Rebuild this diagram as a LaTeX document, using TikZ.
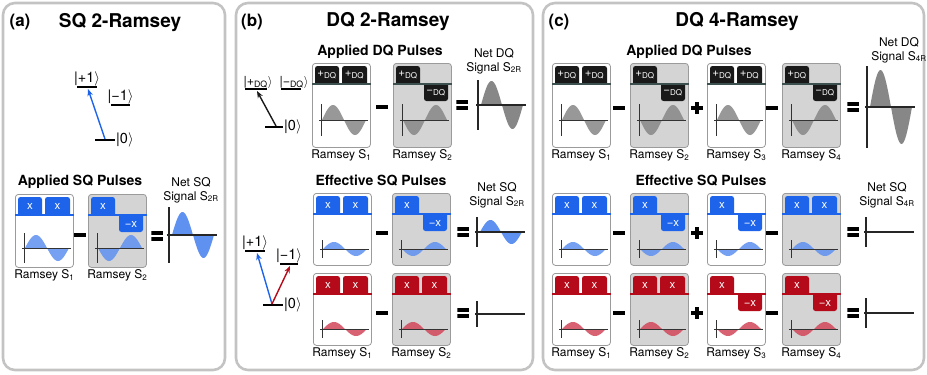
\documentclass[tikz,border=0pt]{standalone}
\usepackage{fontspec}
\setmainfont{TeX Gyre Heros}
\usetikzlibrary{arrows.meta,positioning,calc}

\definecolor{sqblue}{RGB}{30,100,235}
\definecolor{sqbluewave}{RGB}{95,145,240}
\definecolor{sqred}{RGB}{180,10,25}
\definecolor{sqredwave}{RGB}{210,70,90}
\definecolor{dqblack}{RGB}{25,25,25}
\definecolor{dqline}{RGB}{60,80,80}
\definecolor{dqwave}{RGB}{135,135,135}
\definecolor{boxgray}{RGB}{212,212,212}
\definecolor{boxedge}{RGB}{155,155,155}
\definecolor{framegray}{RGB}{195,195,195}

% Ramsey box: name, x, y (north west), height, fill
\newcommand{\ramseybox}[5]{%
  \node[rbox,fill=#5,minimum height=#4] (#1) at (#2,#3) {};}
% two upper pulses: box, tab colour, line colour, label
\newcommand{\pulsepair}[4]{%
  \fill[#2] ($(#1.north west)+(3,21)$) [rounded corners=2.5pt] -- ++(0,-18) -- ++(24,0) [sharp corners] -- ++(0,18) -- cycle;
  \fill[#2] ($(#1.north west)+(30,21)$) [rounded corners=2.5pt] -- ++(0,-18) -- ++(25,0) [sharp corners] -- ++(0,18) -- cycle;
  \draw[#3,line width=1.6pt] ($(#1.north west)+(0,21)$) -- ($(#1.north east)+(0,21)$);
  \node[tabtext] (#1-p1) at ($(#1.north west)+(15,12)$) {#4};
  \node[tabtext] (#1-p2) at ($(#1.north west)+(42.5,12)$) {#4};}
% upper pulse then flipped pulse: box, tab colour, line colour, label, flipped label
\newcommand{\pulseflip}[5]{%
  \fill[#2] ($(#1.north west)+(3,21)$) [rounded corners=2.5pt] -- ++(0,-18) -- ++(24,0) [sharp corners] -- ++(0,18) -- cycle;
  \fill[#2] ($(#1.north west)+(31,21)$) [rounded corners=2.5pt] -- ++(0,17) -- ++(24,0) [sharp corners] -- ++(0,-17) -- cycle;
  \draw[#3,line width=1.6pt] ($(#1.north west)+(0,21)$) -- ($(#1.north east)+(0,21)$);
  \node[tabtext] (#1-p1) at ($(#1.north west)+(15,12)$) {#4};
  \node[tabtext] (#1-p2) at ($(#1.north west)+(43,30)$) {#5};}
% signal inside a box: box, colour, amplitude (signed), axis offset, axis half height
\newcommand{\ramseywave}[5]{%
  \begin{scope}[shift={($(#1.north west)+(10,#4)$)}]
    \fill[#2,opacity=.85] plot[domain=0:44,samples=45] (\x,{-(#3)*sin(\x*360/44)}) -- cycle;
    \draw[waveaxis] (-3,0) -- (46,0);
    \draw[waveaxis] (-1,-#5) -- (-1,#5);
  \end{scope}}
% net signal: name, x, y, colour, amplitude, axis half height
\newcommand{\netwave}[6]{%
  \coordinate (#1) at (#2,#3);
  \begin{scope}[shift={(#1)}]
    \fill[#4] plot[domain=0:42,samples=43] ({3+\x},{-(#5)*sin(\x*360/42)}) -- cycle;
    \draw[netaxis] (-2,0) -- (48,0);
    \draw[netaxis] (0,-#6) -- (0,#6);
  \end{scope}}

\begin{document}
\begin{tikzpicture}[x=1pt,y=-1pt,
  >={Stealth[length=7pt,width=5.5pt]},
  frame/.style={draw=framegray,line width=2.6pt,rounded corners=12pt},
  panel/.style={font=\bfseries\fontsize{17}{20}\selectfont},
  title/.style={font=\bfseries\fontsize{19}{22}\selectfont},
  heading/.style={font=\bfseries\fontsize{14}{16}\selectfont},
  netlabel/.style={font=\fontsize{12}{14}\selectfont,align=center},
  rlabel/.style={font=\fontsize{12}{14}\selectfont,inner sep=1pt},
  rbox/.style={draw=boxedge,line width=0.8pt,rounded corners=3pt,minimum width=58pt,anchor=north west,inner sep=0pt},
  tabtext/.style={text=white,font=\fontsize{11.5}{13}\selectfont,inner sep=0pt},
  waveaxis/.style={draw=black!80,line width=0.8pt},
  netaxis/.style={draw=black!85,line width=1.1pt},
  opminus/.style={fill=black,minimum width=11.5pt,minimum height=3.6pt,inner sep=0pt},
  opequal/.style={minimum width=11.5pt,minimum height=10pt,inner sep=0pt,
    path picture={\fill[black] (path picture bounding box.north west) rectangle ++(11.5pt,-3.6pt);
      \fill[black] (path picture bounding box.south west) rectangle ++(11.5pt,3.6pt);}},
  opplus/.style={minimum width=12pt,minimum height=12pt,inner sep=0pt,
    path picture={\fill[black] ([yshift=1.8pt]path picture bounding box.west) rectangle ([yshift=-1.8pt]path picture bounding box.east);
      \fill[black] ([xshift=-1.8pt]path picture bounding box.north) rectangle ([xshift=1.8pt]path picture bounding box.south);}},
  level/.style={line width=1.8pt},
  ket/.style={font=\fontsize{14.5}{16}\selectfont,inner sep=1pt},
  dqket/.style={font=\fontsize{12.5}{14}\selectfont,inner sep=0.5pt},
  trans/.style={->,line width=1.4pt}
]
\useasboundingbox (0,0) rectangle (927,375);

% Panel (a)
\draw[frame] (3,3) rectangle (225,370);
\node[panel] (alab) at (20,22) {(a)};
\node[title] (atitle) at (120,23) {SQ 2-Ramsey};

\coordinate (ap1L) at (77,87);  \coordinate (ap1R) at (97,87);
\coordinate (am1L) at (111,105); \coordinate (am1R) at (130,105);
\coordinate (a0L) at (95,140);  \coordinate (a0R) at (115,140);
\draw[level] (ap1L) -- (ap1R);
\draw[level] (am1L) -- (am1R);
\draw[level] (a0L) -- (a0R);
\node[ket,anchor=south] (ap1) at ($(ap1L)!.5!(ap1R)$) {|+1$\rangle$};
\node[ket,anchor=south] (am1) at ($(am1L)!.5!(am1R)$) {|−1$\rangle$};
\node[ket,anchor=west] (a0) at (a0R) {|0$\rangle$};
\coordinate (a0s) at (105,139);
\coordinate (ap1e) at (88,89);
\draw[trans,sqblue] (a0s) -- (ap1e);

\node[heading] (ahead) at (80,182) {Applied SQ Pulses};
\node[netlabel] (anet) at (191,190) {Net SQ\\Signal S\textsubscript{2R}};

\ramseybox{aS1}{15}{194}{73pt}{white}
\pulsepair{aS1}{sqblue}{sqblue}{x}
\ramseywave{aS1}{sqbluewave}{13}{54}{15}
\node[opminus] (aop1) at (80,235) {};
\ramseybox{aS2}{88}{194}{73pt}{boxgray}
\pulseflip{aS2}{sqblue}{sqblue}{x}{−x}
\ramseywave{aS2}{sqbluewave}{-13}{54}{15}
\node[opequal] (aop2) at (157,236) {};
\netwave{anetw}{169}{235}{sqbluewave}{23}{28}
\node[rlabel,below=1pt of aS1] (aS1lab) {Ramsey S\textsubscript{1}};
\node[rlabel,below=1pt of aS2] (aS2lab) {Ramsey S\textsubscript{2}};

% Panel (b)
\draw[frame] (236,3) rectangle (533,370);
\node[panel] (blab) at (252,22) {(b)};
\node[title] (btitle) at (388,22) {DQ 2-Ramsey};

\coordinate (bpL) at (245,89);  \coordinate (bpR) at (267,89);
\coordinate (bmL) at (281,89);  \coordinate (bmR) at (301,89);
\coordinate (b0L) at (265,127); \coordinate (b0R) at (283,127);
\draw[level] (bpL) -- (bpR);
\draw[level] (bmL) -- (bmR);
\draw[level] (b0L) -- (b0R);
\node[dqket,anchor=south] (bp) at ($(bpL)!.5!(bpR)+(2,0)$) {|+\textsubscript{DQ}$\rangle$};
\node[dqket,anchor=south] (bm) at ($(bmL)!.5!(bmR)+(3,0)$) {|−\textsubscript{DQ}$\rangle$};
\node[ket,anchor=west] (b0) at (b0R) {|0$\rangle$};
\coordinate (b0s) at (276,126);
\coordinate (bpe) at (257,91);
\draw[trans,dqblack] (b0s) -- (bpe);

\node[heading] (bhead) at (380,52) {Applied DQ Pulses};
\node[netlabel] (bnet) at (494,61) {Net DQ\\Signal S\textsubscript{2R}};

\ramseybox{bA1}{312}{63}{84pt}{white}
\pulsepair{bA1}{dqblack}{dqline}{+\textsubscript{DQ}}
\ramseywave{bA1}{dqwave}{15}{57}{16}
\node[opminus] (bop1) at (382,107) {};
\ramseybox{bA2}{393}{63}{84pt}{boxgray}
\pulseflip{bA2}{dqblack}{dqline}{+\textsubscript{DQ}}{−\textsubscript{DQ}}
\ramseywave{bA2}{dqwave}{-15}{57}{16}
\node[opequal] (bop2) at (462,105) {};
\netwave{bnetw}{478}{105}{dqwave}{24}{25}
\node[rlabel,below=1pt of bA1] (bA1lab) {Ramsey S\textsubscript{1}};
\node[rlabel,below=1pt of bA2] (bA2lab) {Ramsey S\textsubscript{2}};

\node[heading] (bhead2) at (381,181) {Effective SQ Pulses};
\node[netlabel] (bnet2) at (497,195) {Net SQ\\Signal S\textsubscript{2R}};

\coordinate (bp1L) at (245,251); \coordinate (bp1R) at (265,251);
\coordinate (bm1L) at (280,264); \coordinate (bm1R) at (298,264);
\coordinate (bq0L) at (263,305); \coordinate (bq0R) at (283,305);
\draw[level] (bp1L) -- (bp1R);
\draw[level] (bm1L) -- (bm1R);
\draw[level] (bq0L) -- (bq0R);
\node[ket,anchor=south] (bp1) at ($(bp1L)!.5!(bp1R)$) {|+1$\rangle$};
\node[ket,anchor=south] (bm1) at ($(bm1L)!.5!(bm1R)$) {|−1$\rangle$};
\node[ket,anchor=west] (bq0) at (bq0R) {|0$\rangle$};
\coordinate (bq0s) at (272,304);
\coordinate (bp1e) at (257,253);
\coordinate (bm1e) at (290,266);
\draw[trans,sqblue] (bq0s) -- (bp1e);
\draw[trans,sqred] (bq0s) -- (bm1e);

\ramseybox{bB1}{313}{193}{72pt}{white}
\pulsepair{bB1}{sqblue}{sqblue}{x}
\ramseywave{bB1}{sqbluewave}{7}{56}{9}
\node[opminus] (bop3) at (382,233) {};
\ramseybox{bB2}{392}{193}{72pt}{boxgray}
\pulseflip{bB2}{sqblue}{sqblue}{x}{−x}
\ramseywave{bB2}{sqbluewave}{-7}{56}{9}
\node[opequal] (bop4) at (463,232) {};
\netwave{bnetb}{477}{232}{sqbluewave}{12}{15}

\ramseybox{bR1}{313}{273}{72pt}{white}
\pulsepair{bR1}{sqred}{sqred}{x}
\ramseywave{bR1}{sqredwave}{7}{56}{9}
\node[opminus] (bop5) at (382,313) {};
\ramseybox{bR2}{392}{273}{72pt}{boxgray}
\pulsepair{bR2}{sqred}{sqred}{x}
\ramseywave{bR2}{sqredwave}{7}{56}{9}
\node[opequal] (bop6) at (463,313) {};
\netwave{bnetr}{477}{314}{sqredwave}{0}{13}
\node[rlabel,below=1pt of bR1] (bR1lab) {Ramsey S\textsubscript{1}};
\node[rlabel,below=1pt of bR2] (bR2lab) {Ramsey S\textsubscript{2}};

% Panel (c)
\draw[frame] (543,3) rectangle (924,370);
\node[panel] (clab) at (559,22) {(c)};
\node[title] (ctitle) at (737,22) {DQ 4-Ramsey};

\node[heading] (chead) at (689,52) {Applied DQ Pulses};
\node[netlabel] (cnet) at (899,50) {Net DQ\\Signal S\textsubscript{4R}};

\ramseybox{cA1}{552}{63}{84pt}{white}
\pulsepair{cA1}{dqblack}{dqline}{+\textsubscript{DQ}}
\ramseywave{cA1}{dqwave}{15}{57}{16}
\node[opminus] (cop1) at (619,108) {};
\ramseybox{cA2}{630}{63}{84pt}{boxgray}
\pulseflip{cA2}{dqblack}{dqline}{+\textsubscript{DQ}}{−\textsubscript{DQ}}
\ramseywave{cA2}{dqwave}{-15}{57}{16}
\node[opplus] (cop2) at (697,108) {};
\ramseybox{cA3}{707}{63}{84pt}{white}
\pulsepair{cA3}{dqblack}{dqline}{+\textsubscript{DQ}}
\ramseywave{cA3}{dqwave}{15}{57}{16}
\node[opminus] (cop3) at (772,108) {};
\ramseybox{cA4}{782}{63}{84pt}{boxgray}
\pulseflip{cA4}{dqblack}{dqline}{+\textsubscript{DQ}}{−\textsubscript{DQ}}
\ramseywave{cA4}{dqwave}{-15}{57}{16}
\node[opequal] (cop4) at (853,107) {};
\netwave{cnetw}{867}{107}{dqwave}{37}{41}
\node[rlabel,below=1pt of cA1] (cA1lab) {Ramsey S\textsubscript{1}};
\node[rlabel,below=1pt of cA2] (cA2lab) {Ramsey S\textsubscript{2}};
\node[rlabel,below=1pt of cA3] (cA3lab) {Ramsey S\textsubscript{3}};
\node[rlabel,below=1pt of cA4] (cA4lab) {Ramsey S\textsubscript{4}};

\node[heading] (chead2) at (701,181) {Effective SQ Pulses};
\node[netlabel] (cnet2) at (887,195) {Net SQ\\Signal S\textsubscript{4R}};

\ramseybox{cB1}{552}{193}{72pt}{white}
\pulsepair{cB1}{sqblue}{sqblue}{x}
\ramseywave{cB1}{sqbluewave}{7}{56}{9}
\node[opminus] (cop5) at (619,233) {};
\ramseybox{cB2}{630}{193}{72pt}{boxgray}
\pulseflip{cB2}{sqblue}{sqblue}{x}{−x}
\ramseywave{cB2}{sqbluewave}{-7}{56}{9}
\node[opplus] (cop6) at (697,233) {};
\ramseybox{cB3}{707}{193}{72pt}{white}
\pulseflip{cB3}{sqblue}{sqblue}{x}{−x}
\ramseywave{cB3}{sqbluewave}{-7}{56}{9}
\node[opminus] (cop7) at (772,233) {};
\ramseybox{cB4}{782}{193}{72pt}{boxgray}
\pulsepair{cB4}{sqblue}{sqblue}{x}
\ramseywave{cB4}{sqbluewave}{7}{56}{9}
\node[opequal] (cop8) at (853,232) {};
\netwave{cnetb}{866}{232}{sqbluewave}{0}{15}

\ramseybox{cR1}{552}{273}{72pt}{white}
\pulsepair{cR1}{sqred}{sqred}{x}
\ramseywave{cR1}{sqredwave}{7}{56}{9}
\node[opminus] (cop9) at (619,313) {};
\ramseybox{cR2}{630}{273}{72pt}{boxgray}
\pulsepair{cR2}{sqred}{sqred}{x}
\ramseywave{cR2}{sqredwave}{7}{56}{9}
\node[opplus] (cop10) at (697,313) {};
\ramseybox{cR3}{707}{273}{72pt}{white}
\pulseflip{cR3}{sqred}{sqred}{x}{−x}
\ramseywave{cR3}{sqredwave}{-7}{56}{9}
\node[opminus] (cop11) at (772,313) {};
\ramseybox{cR4}{782}{273}{72pt}{boxgray}
\pulseflip{cR4}{sqred}{sqred}{x}{−x}
\ramseywave{cR4}{sqredwave}{-7}{56}{9}
\node[opequal] (cop12) at (853,313) {};
\netwave{cnetr}{866}{313}{sqredwave}{0}{15}
\node[rlabel,below=1pt of cR1] (cR1lab) {Ramsey S\textsubscript{1}};
\node[rlabel,below=1pt of cR2] (cR2lab) {Ramsey S\textsubscript{2}};
\node[rlabel,below=1pt of cR3] (cR3lab) {Ramsey S\textsubscript{3}};
\node[rlabel,below=1pt of cR4] (cR4lab) {Ramsey S\textsubscript{4}};

\end{tikzpicture}
\end{document}
